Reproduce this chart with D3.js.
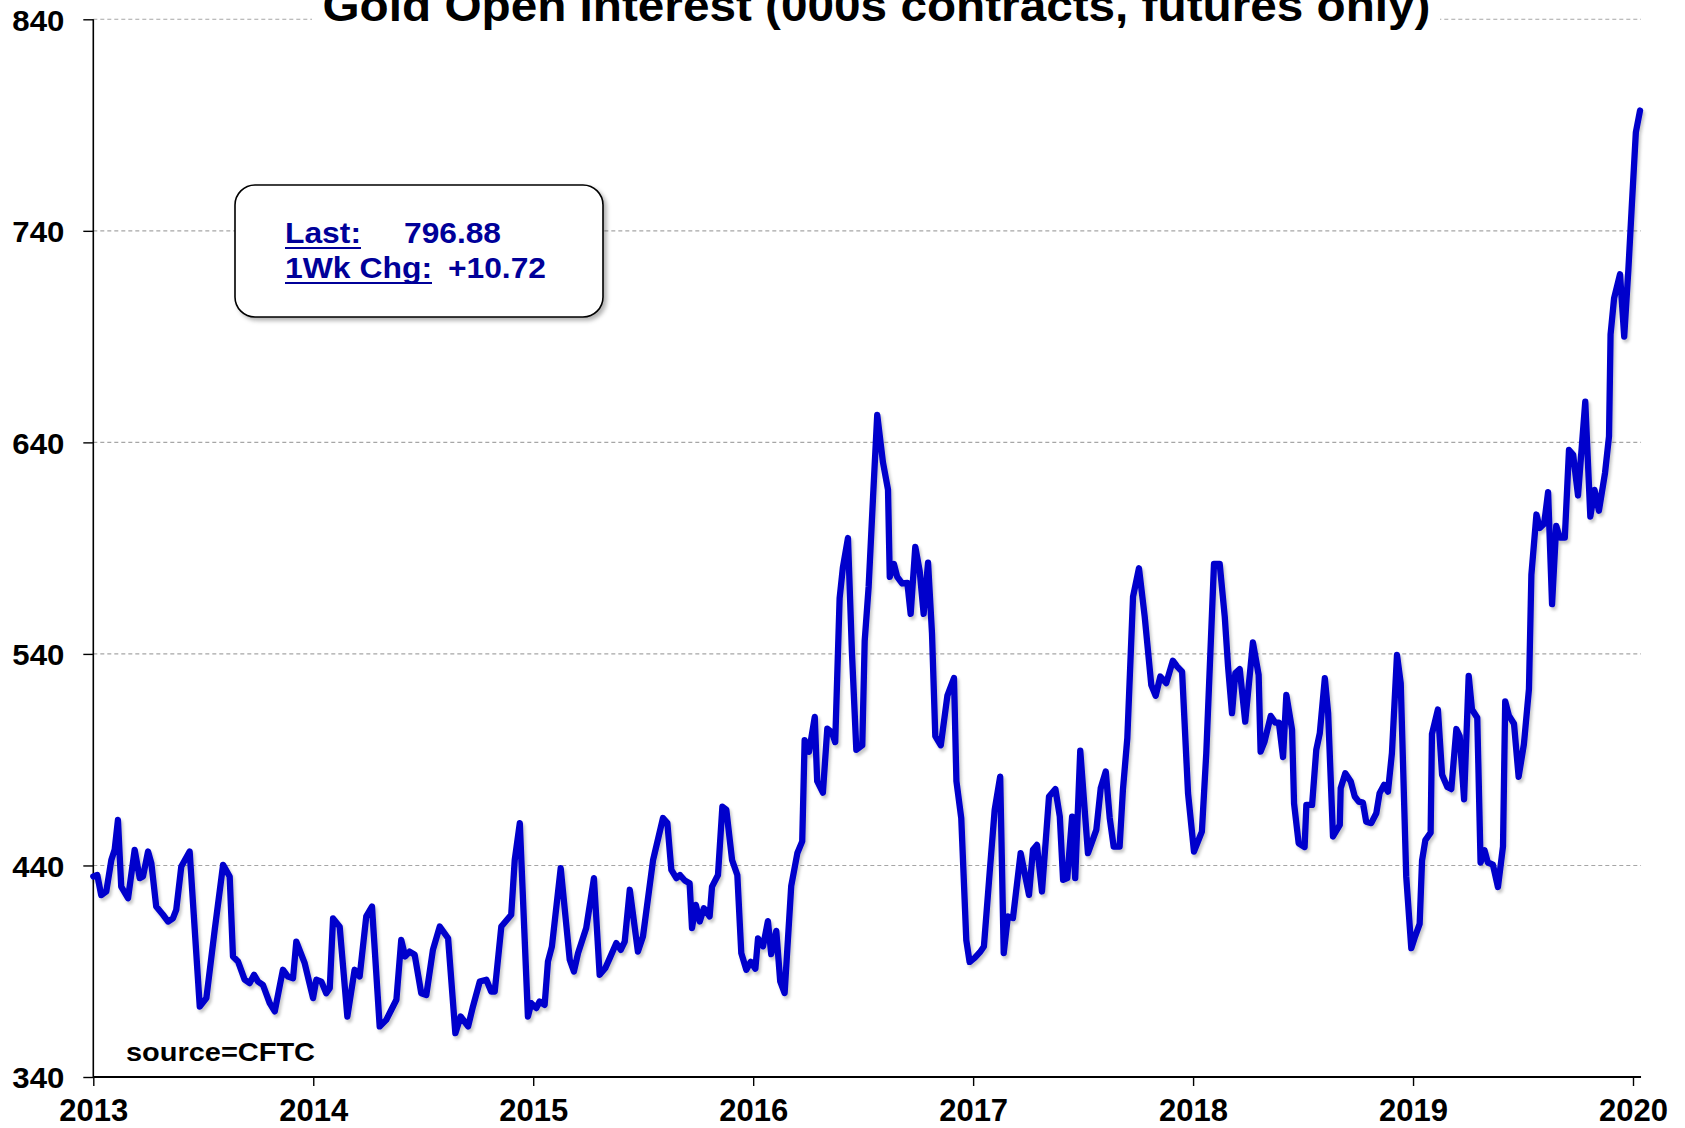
<!DOCTYPE html>
<html><head><meta charset="utf-8">
<script src="https://cdn.jsdelivr.net/npm/d3@7"></script>
<style>html,body{margin:0;padding:0;background:#fff;overflow:hidden}</style>
</head><body>
<svg id="chart" width="1685" height="1128"></svg>
<script>
const titleText = "Gold Open Interest (000s contracts, futures only)";
const sourceText = "source=CFTC";
const lastLabel = "Last:";
const lastValue = "796.88";
const changeLabel = "1Wk Chg:";
const changeValue = "+10.72";
const yTickValues = [340, 440, 540, 640, 740, 840];
const xTickValues = [2013, 2014, 2015, 2016, 2017, 2018, 2019, 2020];

const dates = [
2013.000,2013.018,2013.036,2013.059,2013.082,2013.097,2013.112,2013.127,2013.158,2013.188,
2013.211,2013.226,2013.249,2013.264,2013.286,2013.317,2013.340,2013.362,2013.377,2013.400,
2013.438,2013.484,2013.514,2013.552,2013.590,2013.620,2013.635,2013.658,2013.688,2013.711,
2013.731,2013.749,2013.771,2013.802,2013.825,2013.862,2013.885,2013.908,2013.923,2013.961,
2013.999,2014.014,2014.037,2014.059,2014.075,2014.090,2014.120,2014.155,2014.188,2014.211,
2014.241,2014.267,2014.302,2014.332,2014.355,2014.378,2014.400,2014.418,2014.438,2014.461,
2014.491,2014.514,2014.544,2014.575,2014.613,2014.646,2014.670,2014.704,2014.726,2014.757,
2014.787,2014.809,2014.825,2014.855,2014.900,2014.916,2014.939,2014.976,2014.991,2015.014,
2015.029,2015.052,2015.067,2015.085,2015.125,2015.166,2015.185,2015.204,2015.241,2015.276,
2015.302,2015.328,2015.348,2015.378,2015.398,2015.416,2015.439,2015.476,2015.499,2015.545,
2015.590,2015.610,2015.628,2015.651,2015.667,2015.689,2015.711,2015.722,2015.739,2015.757,
2015.776,2015.802,2015.813,2015.840,2015.860,2015.878,2015.904,2015.928,2015.946,2015.969,
2015.989,2016.010,2016.022,2016.045,2016.067,2016.082,2016.105,2016.123,2016.143,2016.173,
2016.201,2016.223,2016.234,2016.254,2016.280,2016.291,2016.317,2016.337,2016.358,2016.373,
2016.393,2016.408,2016.431,2016.449,2016.469,2016.496,2016.507,2016.525,2016.545,2016.564,
2016.590,2016.613,2016.621,2016.640,2016.655,2016.677,2016.701,2016.716,2016.737,2016.757,
2016.775,2016.795,2016.813,2016.828,2016.853,2016.883,2016.913,2016.924,2016.946,2016.969,
2016.984,2017.007,2017.031,2017.049,2017.075,2017.098,2017.123,2017.139,2017.158,2017.181,
2017.216,2017.254,2017.272,2017.290,2017.313,2017.345,2017.374,2017.394,2017.409,2017.428,
2017.450,2017.464,2017.487,2017.522,2017.560,2017.580,2017.603,2017.621,2017.639,2017.666,
2017.681,2017.701,2017.727,2017.754,2017.780,2017.810,2017.830,2017.851,2017.878,2017.908,
2017.928,2017.950,2017.977,2018.004,2018.040,2018.060,2018.095,2018.121,2018.144,2018.159,
2018.177,2018.192,2018.212,2018.237,2018.272,2018.298,2018.307,2018.325,2018.353,2018.374,
2018.390,2018.409,2018.424,2018.450,2018.459,2018.480,2018.507,2018.515,2018.541,2018.560,
2018.576,2018.599,2018.614,2018.636,2018.667,2018.671,2018.692,2018.717,2018.735,2018.753,
2018.772,2018.787,2018.810,2018.833,2018.848,2018.868,2018.886,2018.904,2018.927,2018.944,
2018.969,2018.992,2019.007,2019.030,2019.041,2019.056,2019.080,2019.086,2019.113,2019.132,
2019.156,2019.174,2019.197,2019.212,2019.232,2019.253,2019.268,2019.292,2019.307,2019.325,
2019.340,2019.363,2019.386,2019.409,2019.419,2019.436,2019.459,2019.480,2019.504,2019.527,
2019.538,2019.561,2019.576,2019.596,2019.614,2019.632,2019.651,2019.667,2019.690,2019.709,
2019.728,2019.750,2019.783,2019.806,2019.825,2019.845,2019.873,2019.891,2019.898,2019.914,
2019.941,2019.960,2019.979,2019.994,2020.013,2020.032
];
const openInterest = [
434.8,435.5,426.0,427.7,442.6,447.4,461.5,430.0,424.5,447.4,
434.0,434.8,446.6,441.0,420.6,416.7,413.5,415.0,419.0,439.5,
446.6,373.3,377.3,409.6,440.3,434.8,397.0,394.6,386.0,384.4,
388.3,385.1,383.6,374.9,371.0,390.7,387.5,386.7,404.0,393.8,
377.3,386.0,385.1,379.6,382.0,415.0,411.1,368.6,390.7,387.5,
415.9,420.6,363.9,367.0,371.8,376.5,404.8,397.0,399.3,397.8,
379.6,378.8,400.1,411.1,405.6,360.7,368.6,363.9,373.3,385.1,
386.0,380.4,380.4,411.1,416.7,442.6,460.0,368.6,374.9,372.6,
375.7,374.1,394.6,401.7,438.7,395.4,389.9,398.6,410.4,434.0,
388.3,391.5,396.2,403.3,400.1,404.0,428.5,399.3,406.4,442.6,
462.4,460.0,437.9,434.0,435.5,432.9,431.6,410.4,421.4,413.5,
419.8,415.9,430.0,435.5,467.8,466.3,442.6,435.5,398.6,390.7,
394.5,391.2,405.5,401.8,413.7,398.1,409.1,385.2,379.7,430.3,
445.9,451.4,499.2,493.7,510.2,479.9,474.4,504.7,502.9,498.3,
566.3,581.0,594.8,540.6,494.7,496.8,546.1,571.8,614.1,653.0,
630.6,617.7,576.4,582.5,576.4,573.3,573.6,558.9,590.6,579.2,
558.9,583.2,549.7,501.1,496.8,520.3,528.6,479.9,462.4,404.6,
394.4,396.3,399.0,401.7,436.4,466.3,482.0,398.6,415.9,415.1,
445.8,426.1,447.4,449.7,427.7,472.6,476.1,463.1,433.2,434.0,
463.1,434.0,494.3,445.8,456.8,476.5,484.4,462.4,448.9,448.9,
475.7,500.2,567.1,580.5,557.6,525.3,520.2,529.3,526.2,536.8,
534.0,531.6,474.2,446.6,456.0,493.1,582.5,582.5,557.6,534.0,
512.0,530.9,532.8,508.0,545.4,530.1,493.8,498.6,510.7,507.5,
507.5,491.2,520.6,504.1,469.4,450.5,448.7,468.6,468.6,494.6,
502.5,528.5,512.0,453.7,459.2,476.5,483.6,479.7,472.6,470.2,
469.7,460.7,460.0,464.7,474.2,478.1,474.9,493.1,539.5,526.2,
434.8,400.9,405.7,412.4,442.4,452.0,455.5,502.2,513.7,482.9,
477.1,476.1,504.5,501.2,471.3,529.6,513.7,509.8,441.4,447.2,
441.4,440.4,429.8,449.0,517.6,510.8,507.0,481.9,497.3,523.4,
577.4,605.9,599.5,601.5,616.5,563.5,600.5,595.0,595.0,636.4,
634.1,614.9,659.2,604.9,617.5,607.7,625.7,642.9,691.0,708.1,
719.5,690.0,721.7,750.7,786.6,796.88
];

const FONT = "'Liberation Sans', Arial, Helvetica, sans-serif";
const svg = d3.select("#chart");

const x = d3.scaleLinear().domain([2013, 2020]).range([93.3, 1633]);
const y = d3.scaleLinear().domain([340, 840]).range([1077, 19.3]);
const xEnd = x(dates[dates.length - 1]) + 1;

const defs = svg.append("defs");
const f1 = defs.append("filter").attr("id", "lineShadow").attr("x", "-5%").attr("y", "-5%").attr("width", "110%").attr("height", "110%");
f1.append("feDropShadow").attr("dx", 2).attr("dy", 3).attr("stdDeviation", 1.5).attr("flood-color", "#000").attr("flood-opacity", 0.22);
const f2 = defs.append("filter").attr("id", "boxShadow").attr("x", "-10%").attr("y", "-10%").attr("width", "120%").attr("height", "130%");
f2.append("feDropShadow").attr("dx", 3).attr("dy", 3).attr("stdDeviation", 2).attr("flood-color", "#000").attr("flood-opacity", 0.3);

// gridlines
svg.append("g").selectAll("line").data(yTickValues.filter(v => v > 340)).join("line")
  .attr("x1", x(2013)).attr("x2", xEnd)
  .attr("y1", d => y(d)).attr("y2", d => y(d))
  .attr("stroke", "#a6a6a6").attr("stroke-width", 1.1).attr("stroke-dasharray", "4,3");

// y axis
const yAxis = svg.append("g").attr("transform", `translate(${x(2013)},0)`)
  .call(d3.axisLeft(y).tickValues(yTickValues).tickSize(10).tickPadding(19).tickFormat(d3.format("d")));
yAxis.select(".domain").attr("stroke", "#000").attr("stroke-width", 1.6).attr("d", `M0,${y(840)}V${y(340)}`);
yAxis.selectAll(".tick line").attr("stroke", "#000").attr("stroke-width", 1.4);
yAxis.selectAll(".tick text").attr("font-family", FONT).attr("font-weight", "bold")
  .attr("font-size", 30).attr("fill", "#000").attr("dy", "0.36em")
  .attr("textLength", 52).attr("lengthAdjust", "spacingAndGlyphs");

// x axis
const xAxis = svg.append("g").attr("transform", `translate(0,${y(340)})`)
  .call(d3.axisBottom(x).tickValues(xTickValues).tickSize(9).tickPadding(22).tickFormat(d3.format("d")));
xAxis.select(".domain").attr("stroke", "#000").attr("stroke-width", 2).attr("d", `M${x(2013)},0H${xEnd}`);
xAxis.selectAll(".tick line").attr("stroke", "#000").attr("stroke-width", 1.4);
xAxis.selectAll(".tick text").attr("font-family", FONT).attr("font-weight", "bold")
  .attr("font-size", 31).attr("fill", "#000").attr("y", 44).attr("dy", 0)
  .attr("textLength", 69).attr("lengthAdjust", "spacingAndGlyphs");

// line
const series = dates.map((d, i) => [d, openInterest[i]]);
svg.append("path").datum(series)
  .attr("d", d3.line().x(d => x(d[0])).y(d => y(d[1])))
  .attr("fill", "none").attr("stroke", "#0000cc").attr("stroke-width", 6.3)
  .attr("stroke-linejoin", "round").attr("stroke-linecap", "round")
  .attr("filter", "url(#lineShadow)");

// info box
const box = svg.append("g");
box.append("rect").attr("x", 235).attr("y", 185).attr("width", 368).attr("height", 132)
  .attr("rx", 20).attr("ry", 20).attr("fill", "#fff").attr("stroke", "#000").attr("stroke-width", 1.6)
  .attr("filter", "url(#boxShadow)");
const navy = "#000099";
const boxText = (t, xx, yy, w) => box.append("text").attr("x", xx).attr("y", yy).text(t)
  .attr("font-family", FONT).attr("font-weight", "bold").attr("font-size", 29).attr("fill", navy)
  .attr("textLength", w).attr("lengthAdjust", "spacingAndGlyphs");
boxText(lastLabel, 285, 243, 76);
boxText(lastValue, 404, 243, 97);
boxText(changeLabel, 285, 278, 147);
boxText(changeValue, 448, 278, 98);
box.append("line").attr("x1", 285).attr("x2", 361).attr("y1", 248).attr("y2", 248).attr("stroke", navy).attr("stroke-width", 2.2);
box.append("line").attr("x1", 285).attr("x2", 432).attr("y1", 283).attr("y2", 283).attr("stroke", navy).attr("stroke-width", 2.2);

// title
svg.append("rect").attr("x", 312).attr("y", 0).attr("width", 1128).attr("height", 32).attr("fill", "#fff");
svg.append("text").attr("x", 876.5).attr("y", 21).attr("text-anchor", "middle").text(titleText)
  .attr("font-family", FONT).attr("font-weight", "bold").attr("font-size", 44).attr("fill", "#000")
  .attr("textLength", 1108).attr("lengthAdjust", "spacingAndGlyphs");

// source
svg.append("text").attr("x", 126).attr("y", 1061).text(sourceText)
  .attr("font-family", FONT).attr("font-weight", "bold").attr("font-size", 25).attr("fill", "#000")
  .attr("textLength", 189).attr("lengthAdjust", "spacingAndGlyphs");
</script>
</body></html>
